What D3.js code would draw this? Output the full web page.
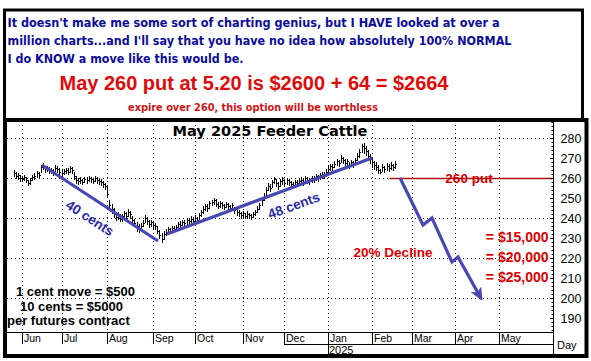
<!DOCTYPE html>
<html><head><meta charset="utf-8">
<script src="https://cdn.jsdelivr.net/npm/d3@7"></script>
<style>body{margin:0;background:#fff}svg{display:block}</style>
</head><body><svg id="c" width="591" height="361"></svg>
<script>
// ---------- data ----------
const headerLines = [
  "It doesn't make me some sort of charting genius, but I HAVE looked at over a",
  "million charts...and I'll say that you have no idea how absolutely 100% NORMAL",
  "I do KNOW a move like this would be."
];
const headline = "May 260 put at 5.20 is $2600 + 64 = $2664";
const subline = "expire over 260, this option will be worthless";
const chartTitle = "May 2025 Feeder Cattle";
const months = ["Jun","Jul","Aug","Sep","Oct","Nov","Dec","Jan","Feb","Mar","Apr","May"];
const monthStart = [0,19,41,63,83,106,126,147,168,187,208,229]; // trading-day index
const yearLabel = "2025";
const firstBar = -4;
const highs = [264.0,263.0,262.5,261.5,261.0,261.5,260.5,
 259.0,260.0,261.5,262.5,263.5,263.0,
 266.5,267.5,266.0,266.0,265.5,265.0,264.5,266.5,266.0,265.0,264.0,
 264.5,265.0,265.0,266.0,265.5,
 263.0,261.0,260.0,260.5,259.5,260.5,260.5,
 261.0,260.5,260.0,261.0,260.5,260.0,
 259.5,258.5,257.5,256.5,
 249.0,247.0,245.0,242.5,243.0,242.0,
 242.0,243.5,243.0,244.5,243.5,
 241.0,239.5,238.0,237.0,237.5,239.0,
 241.5,240.5,239.0,239.0,238.0,237.5,
 236.0,234.0,232.5,233.5,
 234.5,235.5,235.0,236.0,236.0,236.5,
 238.0,238.5,239.0,239.0,240.0,240.0,241.0,240.5,241.5,240.5,
 242.5,244.0,246.0,247.0,247.0,248.5,249.0,
 250.0,249.5,248.0,248.5,248.0,247.0,248.0,247.5,246.5,247.5,
 245.5,244.5,244.0,243.0,243.5,242.5,243.5,242.5,242.0,243.0,244.0,246.0,
 247.5,250.5,252.5,255.5,257.5,257.0,259.0,260.5,259.5,
 258.0,259.5,260.5,259.5,260.0,259.5,
 258.5,258.0,259.0,259.0,259.5,
 260.5,259.5,261.0,260.5,260.0,261.0,261.0,262.0,261.5,262.5,
 263.0,263.0,264.5,
 266.0,267.0,267.0,268.5,269.5,269.0,271.5,270.5,269.5,269.5,
 268.0,269.0,268.5,270.0,272.5,
 274.5,277.0,277.5,276.0,274.0,
 272.0,270.0,268.5,268.0,266.5,
 264.5,267.0,266.0,267.5,267.0,268.0,267.0,268.5];
const lows = [261.0,260.0,259.5,258.5,258.5,259.0,258.0,
 256.5,257.0,259.0,259.5,260.5,260.0,
 263.0,264.5,263.0,263.5,262.5,262.5,261.5,263.0,263.0,261.5,261.0,
 262.0,262.5,262.0,263.0,262.5,
 259.5,257.5,257.0,257.5,257.0,258.0,257.5,
 258.5,258.0,257.5,258.5,257.5,257.0,
 256.5,255.5,254.5,250.5,
 245.0,242.5,240.5,239.0,239.5,238.5,
 238.5,240.0,239.5,241.0,240.0,
 237.5,236.0,233.5,233.0,234.0,236.0,
 238.0,237.0,235.5,236.0,235.0,234.5,
 232.5,230.0,228.0,229.5,
 231.5,232.5,232.5,233.5,233.0,234.0,
 235.5,235.0,236.5,236.5,237.0,237.5,238.0,237.5,238.5,237.5,
 239.5,241.0,242.5,244.0,243.5,245.0,246.5,
 247.0,246.0,245.0,245.5,245.0,244.5,245.5,244.5,243.5,245.0,
 242.5,241.5,241.0,240.0,240.5,240.0,240.5,240.0,239.5,240.5,241.5,243.0,
 244.5,246.5,249.0,251.5,254.0,253.5,255.5,257.5,256.0,
 254.5,256.0,257.0,256.0,257.0,256.5,
 256.0,255.5,256.0,256.5,257.0,
 257.5,256.5,258.0,257.5,257.0,258.0,258.0,259.0,258.5,259.5,
 260.0,260.0,261.0,
 263.0,264.0,264.0,265.5,266.5,266.0,268.0,267.5,266.0,266.5,
 265.0,266.0,265.5,267.0,269.0,
 270.5,273.0,272.5,271.5,269.0,
 267.5,265.5,264.5,264.0,262.5,
 262.5,263.5,263.0,264.0,263.5,264.5,264.0,265.0];
const closes = [262.5,261.0,261.5,260.0,259.5,260.5,259.0,
 257.5,259.0,260.5,261.0,262.5,261.5,
 265.5,266.0,264.5,265.0,263.5,264.0,263.0,265.0,264.5,263.0,262.5,
 263.5,264.0,263.0,265.0,264.0,
 261.0,259.0,258.5,259.0,258.0,259.5,259.0,
 260.0,259.5,258.5,260.0,259.0,258.5,
 258.0,257.0,256.0,252.0,
 246.5,244.5,242.0,240.5,241.5,239.5,
 241.0,242.5,241.0,243.0,242.0,
 239.0,237.5,236.0,234.5,236.0,237.5,
 240.0,238.5,237.0,238.0,236.5,236.0,
 233.5,231.5,229.5,232.0,
 233.0,234.5,233.5,235.0,234.5,235.5,
 237.0,236.5,238.0,237.5,239.0,238.5,239.5,238.5,240.0,239.0,
 241.5,243.0,244.5,246.0,245.0,247.5,248.0,
 249.0,247.0,246.0,247.5,246.5,245.5,247.0,246.0,245.0,246.5,
 244.0,243.0,242.5,241.5,242.5,241.0,242.0,241.5,240.5,242.0,243.0,244.5,
 246.5,249.0,251.0,254.0,256.0,255.0,258.0,259.5,257.5,
 256.0,258.5,259.0,257.5,259.0,258.0,
 257.0,256.5,258.0,257.5,258.5,
 259.0,258.0,260.0,259.0,258.5,260.0,259.5,261.0,260.0,261.5,
 262.0,261.5,263.0,
 264.5,266.0,265.5,267.0,268.5,267.5,270.0,269.0,267.5,268.5,
 266.5,268.0,267.0,269.0,271.0,
 273.0,276.0,275.0,273.5,271.0,
 269.5,268.0,266.5,265.5,264.0,
 263.0,265.5,264.5,266.0,265.0,266.5,265.5,267.0];
const yTicks = [190,200,210,220,230,240,250,260,270,280];
const gridValues = [200,220,240,260,280];
const trend40 = [[9.6,266.5],[65.3,228.5]];
const trend48 = [[69.6,232],[168,270]];
const projection = [[181.5,260],[192.5,236.5],[196.8,240],[206.4,218],[209.3,220.5],[220.5,199.5]];
const putStrike = 260, putFrom = 176.5;
const putLabel = "260 put";
const lossLabels = ["= $15,000","= $20,000","= $25,000"];
const lossLevels = [228,218,208];
const declineLabel = "20% Decline";
const notes = ["1 cent move = $500","10 cents = $5000","per futures contract"];

// ---------- layout ----------
const svg = d3.select("#c");
const L = 7, R = 553, T = 121, B = 332;
const x = d3.scaleLinear().domain([-7.2, 254.9]).range([L, R]);
const y = d3.scaleLinear().domain([183, 288.5]).range([B, T]);
const blue = "#4848b4", red = "#dd0000";

svg.append("rect").attr("width",591).attr("height",361).attr("fill","#fff");

// header
const hdr = svg.append("g").attr("font-family","'DejaVu Sans', Verdana, sans-serif").attr("font-weight","bold");
const hb = [26.5, 44.5, 62.5], hw = [492, 504, 236];
headerLines.forEach((s,i)=>{
  hdr.append("text").attr("x",7.5).attr("y",hb[i]).attr("font-size",12).attr("fill","#0c0c9c")
    .attr("textLength",hw[i]).attr("lengthAdjust","spacingAndGlyphs").text(s);
});
svg.append("text").attr("x",59.5).attr("y",90).attr("font-family","'Liberation Sans', Arial, sans-serif")
  .attr("font-weight","bold").attr("font-size",20).attr("fill","#e00a0a")
  .attr("textLength",389).attr("lengthAdjust","spacingAndGlyphs").text(headline);
svg.append("text").attr("x",128).attr("y",111).attr("font-family","'DejaVu Sans', Verdana, sans-serif")
  .attr("font-weight","bold").attr("font-size",11).attr("fill","#d01414")
  .attr("textLength",250).attr("lengthAdjust","spacingAndGlyphs").text(subline);

// gridlines
const grid = svg.append("g").attr("stroke","#000").attr("stroke-width",1).attr("stroke-dasharray","1,3");
grid.selectAll("line.v").data(monthStart).join("line")
  .attr("x1",d=>Math.round(x(d))+0.5).attr("x2",d=>Math.round(x(d))+0.5).attr("y1",T).attr("y2",B);
grid.selectAll("line.h").data(gridValues).join("line").attr("class","h")
  .attr("x1",L).attr("x2",R).attr("y1",d=>Math.round(y(d))+0.5).attr("y2",d=>Math.round(y(d))+0.5);

// title
svg.append("text").attr("x",270).attr("y",135.5).attr("text-anchor","middle")
  .attr("font-family","'DejaVu Sans', Verdana, sans-serif").attr("font-weight","bold").attr("font-size",14.5)
  .attr("textLength",195).attr("lengthAdjust","spacingAndGlyphs").text(chartTitle);

// bars
const bars = svg.append("g").attr("stroke","#000").attr("stroke-width",1).attr("shape-rendering","crispEdges");
const barData = highs.map((h,k)=>({i:firstBar+k,h,l:lows[k],c:closes[k]}));
bars.selectAll("line.b").data(barData).join("line").attr("class","b")
  .attr("x1",d=>Math.round(x(d.i))+0.5).attr("x2",d=>Math.round(x(d.i))+0.5)
  .attr("y1",d=>Math.round(y(d.h))).attr("y2",d=>Math.round(y(d.l))+1);
bars.selectAll("line.c").data(barData).join("line").attr("class","c")
  .attr("x1",d=>Math.round(x(d.i))+0.5).attr("x2",d=>Math.round(x(d.i))+2)
  .attr("y1",d=>Math.round(y(d.c))+0.5).attr("y2",d=>Math.round(y(d.c))+0.5);

// trend lines
const line = d3.line().x(d=>x(d[0])).y(d=>y(d[1]));
[trend40, trend48].forEach(t=>{
  svg.append("path").attr("d",line(t)).attr("fill","none").attr("stroke",blue).attr("stroke-width",3.2);
});
// trend labels
const tlab = svg.append("g").attr("font-family","'Liberation Sans', Arial, sans-serif").attr("font-weight","bold")
  .attr("font-size",13.5).attr("fill","#2a2aa8").attr("text-anchor","middle");
tlab.append("text").attr("transform",`translate(${x(32.6)},${y(240)}) rotate(33)`).attr("dy","0.35em").text("40 cents");
tlab.append("text").attr("transform",`translate(${x(130.5)},${y(246.3)}) rotate(-20)`).attr("dy","0.35em").text("48 cents");

// put line
svg.append("line").attr("x1",x(putFrom)).attr("x2",R).attr("y1",y(putStrike)+0.5).attr("y2",y(putStrike)+0.5)
  .attr("stroke","#b41010").attr("stroke-width",1.6);
svg.append("text").attr("x",469).attr("y",y(putStrike)).attr("dy","0.36em").attr("text-anchor","middle")
  .attr("font-family","'Liberation Sans', Arial, sans-serif").attr("font-weight","bold").attr("font-size",13.5)
  .attr("fill","#d00000").text(putLabel);

// projection arrow
const defs = svg.append("defs");
defs.append("marker").attr("id","ah").attr("markerUnits","userSpaceOnUse").attr("markerWidth",14).attr("markerHeight",14)
  .attr("refX",11).attr("refY",6).attr("orient","auto")
  .append("path").attr("d","M0,0 L13,6 L0,12 L3,6 z").attr("fill",blue);
svg.append("path").attr("d",line(projection)).attr("fill","none").attr("stroke",blue).attr("stroke-width",3.2)
  .attr("stroke-linejoin","miter").attr("marker-end","url(#ah)");

// red labels
const rl = svg.append("g").attr("font-family","'Liberation Sans', Arial, sans-serif").attr("font-weight","bold")
  .attr("font-size",14).attr("fill",red);
rl.selectAll("text.l").data(lossLabels).join("text").attr("class","l").attr("x",548.5).attr("text-anchor","end")
  .attr("y",(d,i)=>y(lossLevels[i])).text(d=>d);
rl.append("text").attr("x",393).attr("y",256.5).attr("text-anchor","middle").attr("font-size",13.5).text(declineLabel);

// notes
const nt = svg.append("g").attr("font-family","'Liberation Sans', Arial, sans-serif").attr("font-weight","bold")
  .attr("font-size",13).attr("fill","#000");
[[16,296],[20,311],[7,325]].forEach((p,i)=>nt.append("text").attr("x",p[0]).attr("y",p[1]).text(notes[i]));

// right axis
const ax = svg.append("g").attr("transform",`translate(${R+0.5},0)`);
ax.call(d3.axisRight(y).tickValues(yTicks).tickSizeInner(-4).tickSizeOuter(0).tickPadding(7).tickFormat(d3.format("d")));
ax.select(".domain").remove();
ax.selectAll("text").attr("font-family","'Liberation Sans', Arial, sans-serif").attr("font-size",12.5).attr("fill","#000");
ax.selectAll("line").attr("stroke","#000").attr("shape-rendering","crispEdges");
const minor = d3.range(184,289,2).filter(v=>v%10!==0);
ax.selectAll("line.minor").data(minor).join("line").attr("class","minor")
  .attr("x1",-2).attr("x2",0).attr("y1",d=>Math.round(y(d))+0.5).attr("y2",d=>Math.round(y(d))+0.5)
  .attr("stroke","#000");
svg.append("line").attr("x1",R+0.5).attr("x2",R+0.5).attr("y1",T).attr("y2",356).attr("stroke","#000").attr("shape-rendering","crispEdges");

// month row
const mr = svg.append("g").attr("shape-rendering","crispEdges");
mr.append("line").attr("x1",L).attr("x2",R).attr("y1",B+0.5).attr("y2",B+0.5).attr("stroke","#000");
mr.append("line").attr("x1",x(126)).attr("x2",R).attr("y1",344.5).attr("y2",344.5).attr("stroke","#000");
mr.selectAll("line.ms").data(monthStart).join("line").attr("class","ms")
  .attr("x1",d=>Math.round(x(d))+0.5).attr("x2",d=>Math.round(x(d))+0.5)
  .attr("y1",B).attr("y2",(d,i)=>months[i]==="Jan"?355:344).attr("stroke","#000");
mr.selectAll("text").data(months).join("text").attr("x",(d,i)=>Math.round(x(monthStart[i]))+2).attr("y",342)
  .attr("font-family","'Liberation Sans', Arial, sans-serif").attr("font-size",10.5).text(d=>d);
svg.append("text").attr("x",Math.round(x(147))+1).attr("y",354).attr("font-family","'Liberation Sans', Arial, sans-serif")
  .attr("font-size",11).text(yearLabel);
svg.append("text").attr("x",557).attr("y",349).attr("font-family","'Liberation Sans', Arial, sans-serif")
  .attr("font-size",11).text("Day");

// frames
svg.append("rect").attr("x",4.5).attr("y",10).attr("width",578).attr("height",110).attr("fill","none").attr("stroke","#000").attr("stroke-width",3);
svg.append("rect").attr("x",5).attr("y",120).attr("width",581.5).attr("height",236).attr("fill","none").attr("stroke","#000").attr("stroke-width",4);
</script></body></html>
